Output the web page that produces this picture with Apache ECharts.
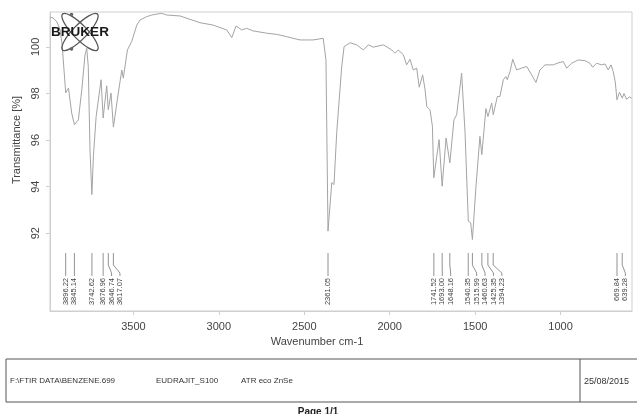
<!DOCTYPE html>
<html>
<head>
<meta charset="utf-8">
<title>FTIR EUDRAJIT_S100</title>
<script src="https://cdn.jsdelivr.net/npm/echarts@6/dist/echarts.min.js"></script>
<style>
  html, body { margin: 0; padding: 0; background: #fff; }
  #chart { width: 637px; height: 414px; }
</style>
</head>
<body>
<div id="chart"></div>
<script>
// spectrum: wavenumber (cm-1) and transmittance (%)
var wavenumber = [
  3988, 3970, 3947, 3929, 3917, 3906, 3896, 3880, 3861, 3845, 3822, 3802, 3783, 3773, 3764, 3754,
  3743, 3734, 3718, 3689, 3677, 3656, 3647, 3631, 3617, 3594, 3568, 3559, 3535, 3510, 3480, 3461,
  3422, 3393, 3363, 3334, 3305, 3227, 3110, 3034, 2954, 2924, 2899, 2866, 2837, 2800, 2720, 2661,
  2603, 2525, 2449, 2389, 2373, 2361, 2339, 2326, 2310, 2281, 2267, 2232, 2193, 2154, 2125, 2096,
  2037, 1988, 1969, 1950, 1920, 1901, 1881, 1862, 1842, 1827, 1807, 1793, 1783, 1764, 1750, 1742,
  1711, 1693, 1670, 1648, 1624, 1608, 1579, 1559, 1540, 1526, 1516, 1495, 1472, 1461, 1437, 1425,
  1403, 1394, 1370, 1355, 1335, 1320, 1312, 1296, 1280, 1257, 1228, 1198, 1169, 1144, 1121, 1091,
  1043, 1015, 984, 964, 935, 897, 857, 828, 812, 789, 760, 740, 721, 705, 692, 680,
  670, 655, 639, 629, 613, 598, 584
];
var transmittance = [
  101.28, 101.24, 101.07, 100.73, 100.09, 99.01, 98.03, 98.23, 97.16, 96.66, 96.87, 98.16, 99.66, 99.94, 99.16, 95.59,
  93.66, 95.30, 97.01, 98.59, 96.95, 98.33, 97.30, 98.02, 96.56, 97.73, 99.01, 98.66, 99.87, 100.23, 100.94, 101.16,
  101.30, 101.37, 101.41, 101.44, 101.37, 101.33, 101.04, 100.94, 100.73, 100.40, 100.90, 100.73, 100.80, 100.69, 100.59, 100.54,
  100.44, 100.30, 100.30, 100.37, 99.44, 92.09, 94.18, 94.09, 96.32, 99.14, 100.01, 100.18, 100.09, 99.87, 100.09, 99.99,
  100.09, 99.87, 99.73, 99.87, 99.66, 99.23, 99.47, 99.01, 99.09, 98.27, 98.80, 98.16, 97.44, 97.30, 96.59, 94.38,
  96.02, 94.02, 96.09, 95.02, 96.87, 97.09, 98.87, 96.32, 92.52, 92.45, 91.73, 94.02, 96.16, 95.37, 97.35, 97.01,
  97.59, 97.09, 97.87, 97.87, 98.59, 98.73, 98.59, 98.94, 99.47, 99.01, 99.09, 99.16, 98.80, 98.47, 99.01, 99.23,
  99.23, 99.31, 99.37, 99.09, 99.30, 99.44, 99.41, 99.30, 99.13, 99.30, 99.23, 99.27, 99.01, 99.23, 98.94, 98.50,
  97.73, 98.05, 97.80, 98.00, 97.75, 97.85, 97.80
];
var peakWavenumbers = [3896.22, 3845.14, 3742.62, 3676.96, 3646.74, 3617.07, 2361.05,
  1741.52, 1693.00, 1648.16, 1540.35, 1515.99, 1460.63, 1425.35, 1394.23, 669.84, 639.28];
var xTicks = [1000, 1500, 2000, 2500, 3000, 3500];
var yTicks = [92, 94, 96, 98, 100];
var footerTexts = ['F:\\FTIR DATA\\BENZENE.699', 'EUDRAJIT_S100', 'ATR eco ZnSe'];
var footerDate = '25/08/2015';

var chart = echarts.init(document.getElementById('chart'));

var spectrum = wavenumber.map(function (w, i) { return [w, transmittance[i]]; });

// peak picking marks under the curve, labels pushed right so they don't overlap
function renderPeak(params, api) {
  var xs = peakWavenumbers.map(function (w) { return api.coord([w, 95])[0]; });
  var lx = [];
  for (var i = 0; i < xs.length; i++) {
    lx[i] = i === 0 ? xs[i] : Math.max(xs[i], lx[i - 1] + 8.4);
  }
  var k = params.dataIndex;
  var bottom = params.coordSys.y + params.coordSys.height;
  var px = xs[k];
  return {
    type: 'group',
    children: [
      {
        type: 'polyline',
        shape: { points: [[px, bottom - 58], [px, bottom - 46], [lx[k], bottom - 38], [lx[k], bottom - 35]] },
        style: { stroke: '#777', lineWidth: 0.8, fill: null }
      },
      {
        type: 'text',
        x: lx[k],
        y: bottom - 33,
        rotation: Math.PI / 2,
        style: {
          text: peakWavenumbers[k].toFixed(2),
          align: 'right',
          verticalAlign: 'middle',
          fontSize: 7.5,
          fontFamily: 'Liberation Sans, Arial, sans-serif',
          fill: '#444'
        }
      }
    ]
  };
}

var textFont = 'Liberation Sans, Arial, sans-serif';

chart.setOption({
  backgroundColor: '#fff',
  animation: false,
  grid: {
    left: 50,
    right: 5,
    top: 12,
    bottom: 103,
    show: true,
    borderColor: '#cfcfcf',
    borderWidth: 1
  },
  xAxis: {
    type: 'value',
    inverse: true,
    min: 582,
    max: 3988,
    axisLine: { show: true, lineStyle: { color: '#cfcfcf' } },
    axisTick: { show: true, length: 4, customValues: xTicks, lineStyle: { color: '#cfcfcf' } },
    axisLabel: {
      customValues: xTicks, color: '#444', fontSize: 11, fontFamily: textFont, margin: 10,
      formatter: function (v) { return String(v); }
    },
    splitLine: { show: false }
  },
  yAxis: {
    type: 'value',
    min: 88.66,
    max: 101.5,
    axisLine: { show: true, lineStyle: { color: '#cfcfcf' } },
    axisTick: { show: true, length: 4, customValues: yTicks, lineStyle: { color: '#cfcfcf' } },
    axisLabel: { customValues: yTicks, rotate: 90, color: '#444', fontSize: 11, fontFamily: textFont, margin: 9 },
    splitLine: { show: false }
  },
  series: [
    {
      type: 'line',
      data: spectrum,
      showSymbol: false,
      symbol: 'none',
      lineStyle: { color: '#a4a4a4', width: 1 },
      z: 3
    },
    {
      type: 'custom',
      data: peakWavenumbers.map(function (w) { return [w, 95]; }),
      renderItem: renderPeak,
      silent: true,
      z: 2
    }
  ],
  graphic: [
    // Bruker logo
    { type: 'ellipse', x: 80, y: 32, rotation: 0.8, shape: { cx: 0, cy: 0, rx: 25, ry: 7 },
      style: { fill: 'transparent', stroke: '#555', lineWidth: 1.3 }, z: 10 },
    { type: 'ellipse', x: 80, y: 32, rotation: -0.8, shape: { cx: 0, cy: 0, rx: 25, ry: 7 },
      style: { fill: 'transparent', stroke: '#555', lineWidth: 1.3 }, z: 10 },
    { type: 'circle', shape: { cx: 71.5, cy: 14.5, r: 1.8 }, style: { fill: '#666' }, z: 10 },
    { type: 'circle', shape: { cx: 71.5, cy: 49, r: 1.8 }, style: { fill: '#666' }, z: 10 },
    { type: 'text', x: 80, y: 32, z: 11,
      style: { text: 'BRUKER', align: 'center', verticalAlign: 'middle', fill: '#1a1a1a',
        font: 'bold 13.5px Liberation Sans, Arial, sans-serif' } },
    // axis names
    { type: 'text', x: 17, y: 140, rotation: Math.PI / 2,
      style: { text: 'Transmittance [%]', align: 'center', verticalAlign: 'middle', fill: '#444',
        fontSize: 11, fontFamily: textFont } },
    { type: 'text', x: 317, y: 342,
      style: { text: 'Wavenumber cm-1', align: 'center', verticalAlign: 'middle', fill: '#444',
        fontSize: 11, fontFamily: textFont } },
    // footer box
    { type: 'rect', shape: { x: 6, y: 359, width: 640, height: 43 },
      style: { fill: 'transparent', stroke: '#555', lineWidth: 1 } },
    { type: 'line', shape: { x1: 580, y1: 359, x2: 580, y2: 402 }, style: { stroke: '#555', lineWidth: 1 } },
    { type: 'text', x: 10, y: 381, style: { text: footerTexts[0], verticalAlign: 'middle', fill: '#333', fontSize: 8, fontFamily: textFont } },
    { type: 'text', x: 156, y: 381, style: { text: footerTexts[1], verticalAlign: 'middle', fill: '#333', fontSize: 8, fontFamily: textFont } },
    { type: 'text', x: 241, y: 381, style: { text: footerTexts[2], verticalAlign: 'middle', fill: '#333', fontSize: 8, fontFamily: textFont } },
    { type: 'text', x: 584, y: 382, style: { text: footerDate, verticalAlign: 'middle', fill: '#333', fontSize: 9, fontFamily: textFont } },
    { type: 'text', x: 318, y: 412, style: { text: 'Page 1/1', align: 'center', verticalAlign: 'middle', fill: '#222',
        font: 'bold 10px Liberation Sans, Arial, sans-serif' } }
  ]
});
</script>
</body>
</html>
